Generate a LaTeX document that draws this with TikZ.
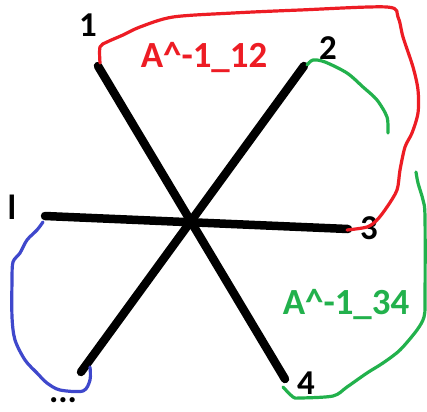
\documentclass[tikz,border=0pt]{standalone}
\usepackage{fontspec}
\setmainfont{Carlito}
\definecolor{pred}{RGB}{237,28,36}
\definecolor{pgreen}{RGB}{34,177,76}
\definecolor{pblue}{RGB}{63,72,204}
\begin{document}
\begin{tikzpicture}[x=1bp,y=-1bp,
  leg/.style={line width=8.5bp,line cap=round,black},
  loop/.style={line width=3.2bp,line cap=round,line join=round},
  lab/.style={font=\fontsize{35}{35}\selectfont\bfseries,inner sep=0pt},
  tag/.style={font=\fontsize{37}{37}\selectfont\bfseries,inner sep=0pt}]
\useasboundingbox[fill=white] (0,0) rectangle (427,412);
% leg ends
\coordinate (e1) at (98,66);
\coordinate (e4) at (285,379);
\coordinate (e2) at (304,66);
\coordinate (ed) at (81,372);
\coordinate (el) at (45,216);
\coordinate (e3) at (348,229);
\draw[leg] (e1) -- (e4);
\draw[leg] (e2) -- (ed);
\draw[leg] (el) -- (e3);
% labels
\node[lab] (n1) at (88,25) {1};
\node[lab] (n2) at (328,48) {2};
\node[lab] (n3) at (369,228) {3};
\node[lab] (n4) at (306,383) {4};
\node[lab] (nl) at (12,207) {l};
\node[lab] (nd) at (63,400) {...};
\node[tag,text=pred] (t12) at (204,57) {A\^{}-1\_12};
\node[tag,text=pgreen] (t34) at (346,304) {A\^{}-1\_34};
% loops
\draw[loop,pred] plot[smooth,tension=0.5] coordinates {(100,63) (100,47) (107,42) (123,35) (140,27) (173,17) (233,13) (300,10) (387,7) (398,17) (403,37) (413,67) (418,90) (418,113) (412,133) (405,147) (400,170) (397,190) (387,207) (377,220) (367,227) (347,230)};
\draw[loop,pgreen] plot[smooth,tension=0.5] coordinates {(307,65) (313,60) (325,62) (347,73) (363,87) (377,100) (387,117) (388,133)};
\draw[loop,pgreen] plot[smooth,tension=0.5] coordinates {(416,172) (418,183) (423,200) (425,217) (425,300) (424,317) (417,330) (400,350) (383,363) (367,373) (347,387) (333,396) (300,398) (293,397) (283,387)};
\draw[loop,pblue] plot[smooth,tension=0.5] coordinates {(43,222) (37,230) (27,240) (20,253) (13,262) (12,280) (12,317) (15,340) (25,360) (37,373) (47,383) (60,390) (83,391) (90,380) (90,367)};
\end{tikzpicture}
\end{document}
